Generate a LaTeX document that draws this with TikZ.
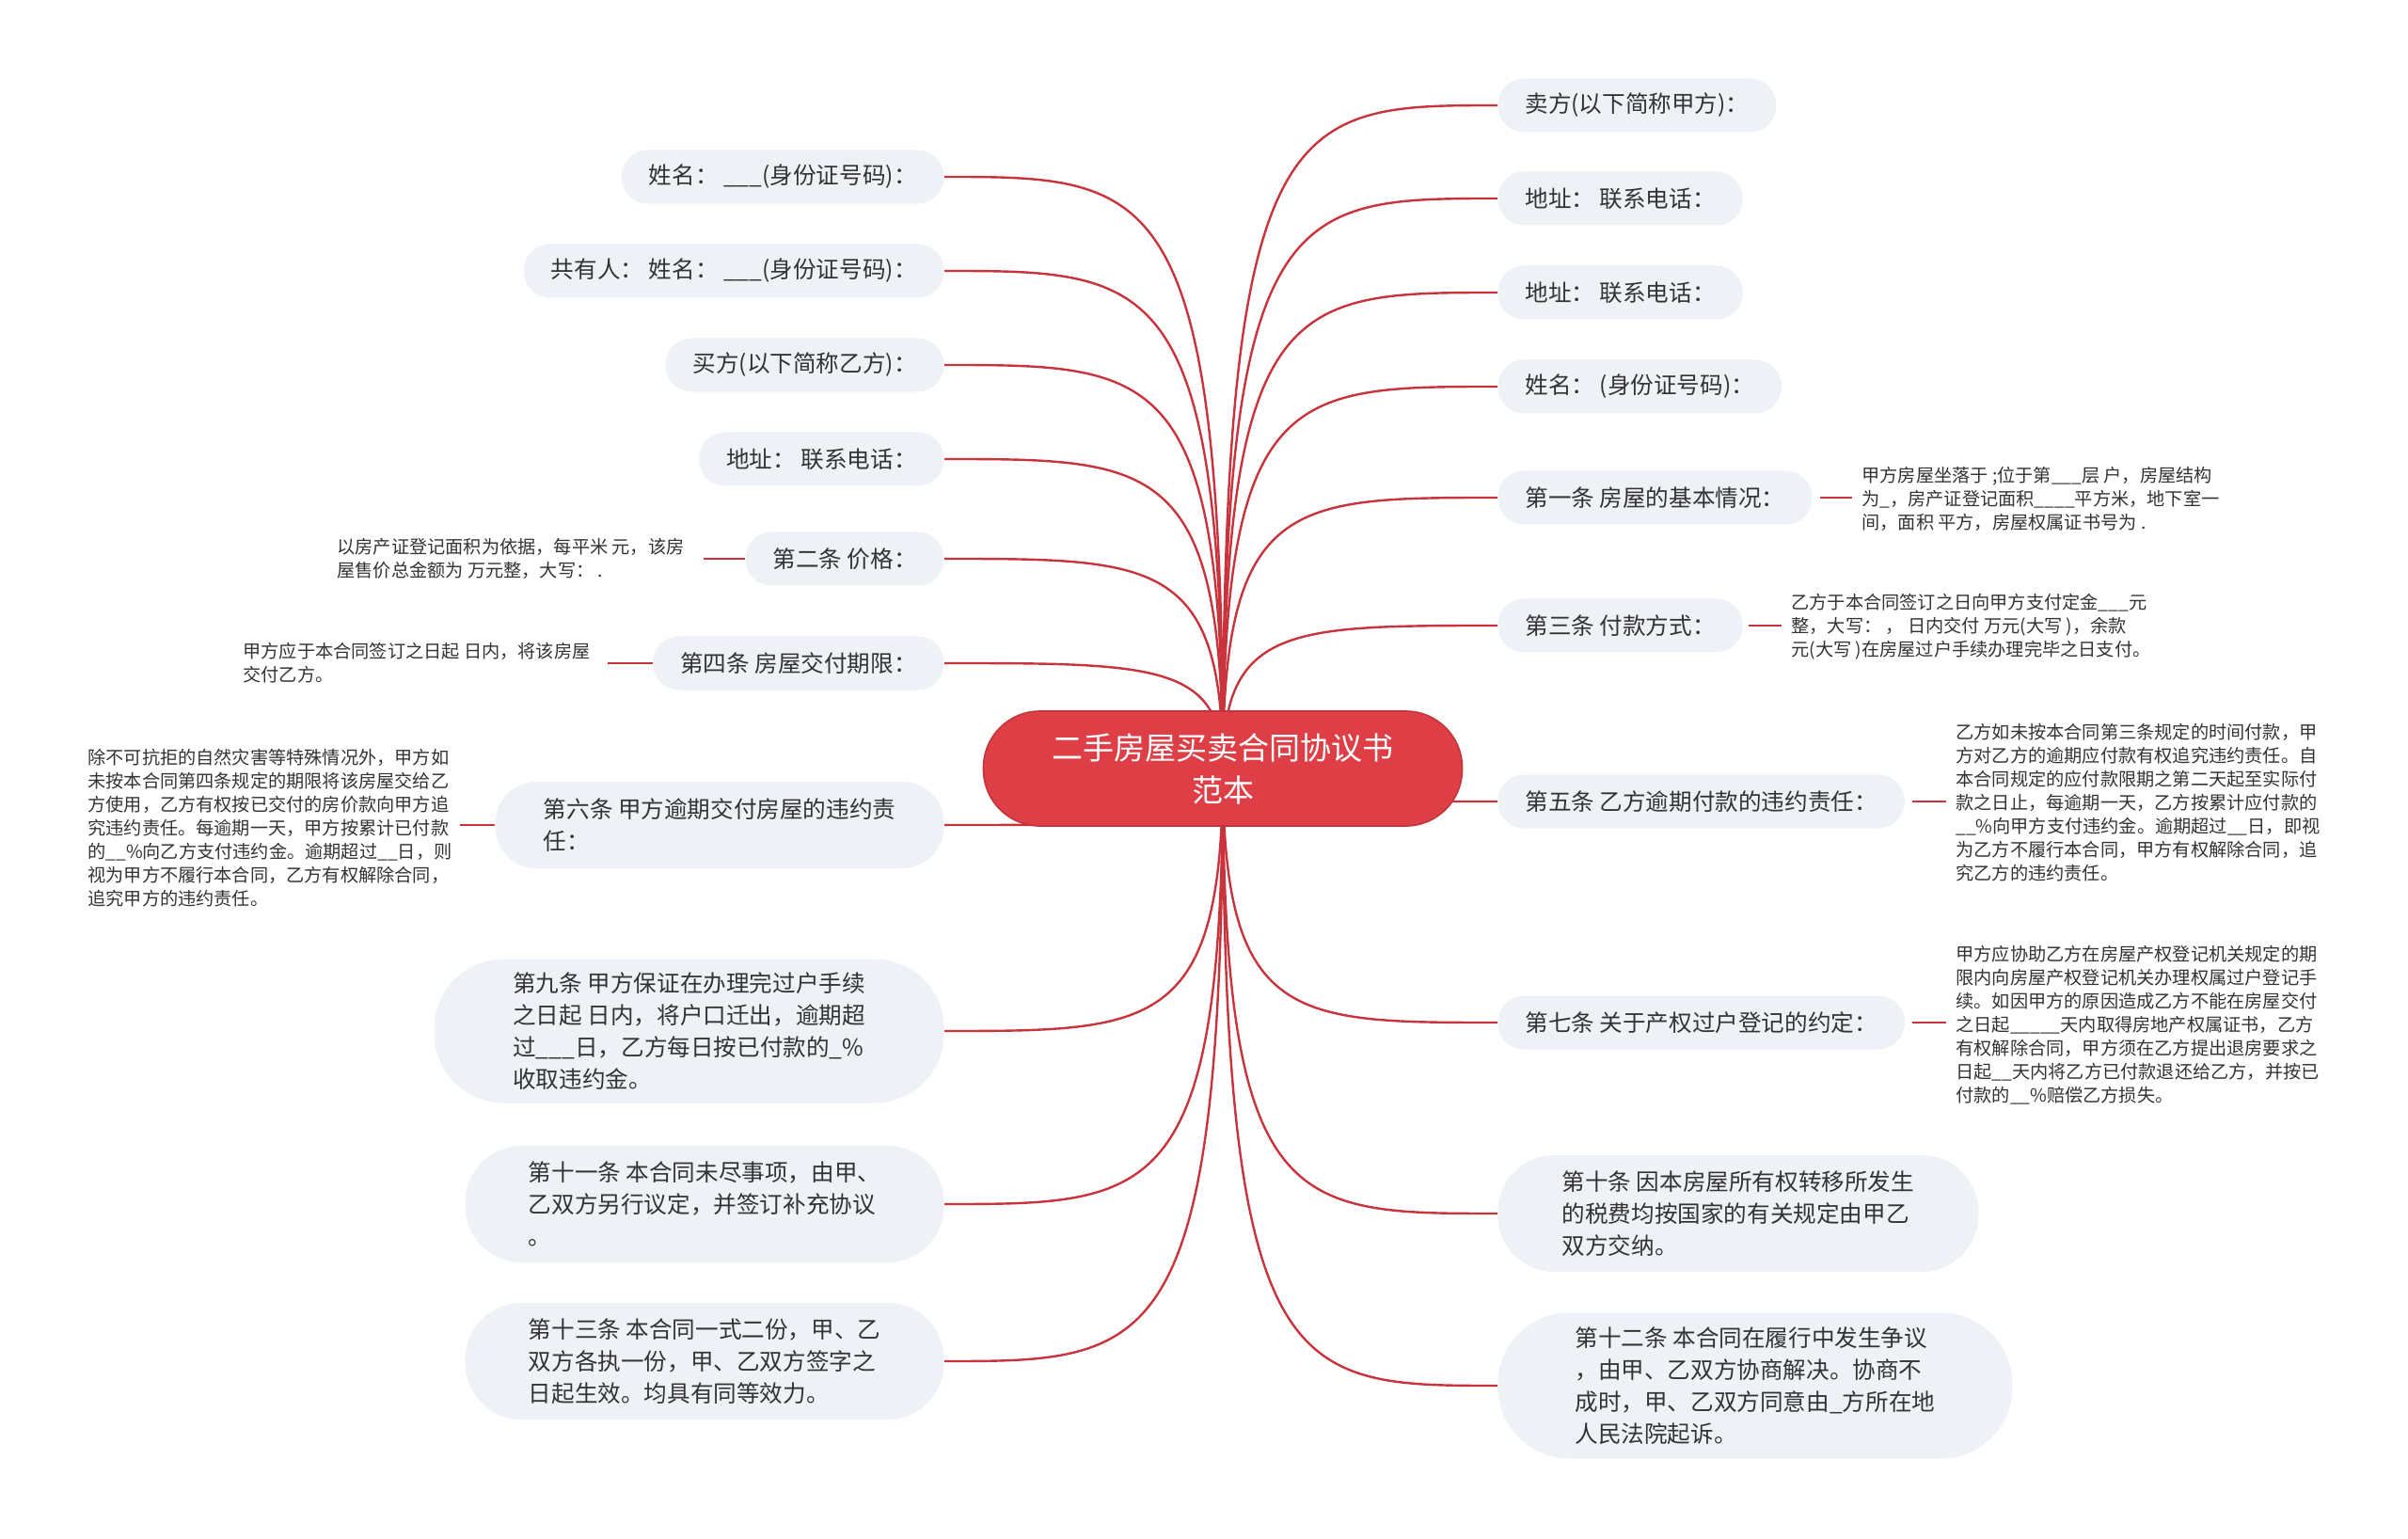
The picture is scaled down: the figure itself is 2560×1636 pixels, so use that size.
\documentclass[tikz,border=0pt]{standalone}
\usepackage{fontspec}
\setmainfont{Noto Sans CJK SC}
\usetikzlibrary{calc}
\pgfdeclarelayer{bg}
\pgfsetlayers{bg,main}
\definecolor{linered}{HTML}{C8333C}
\definecolor{rootred}{HTML}{DE3F47}
\definecolor{rootborder}{HTML}{C3333A}
\definecolor{boxgray}{HTML}{EEF1F5}
\definecolor{txt}{HTML}{333333}
\tikzset{
  leaf/.style={fill=boxgray, text=txt, font=\fontsize{12.3pt}{17pt}\selectfont, minimum height=28.5pt, inner xsep=14.5pt, inner ysep=0pt, rounded corners=14pt},
  multi/.style={fill=boxgray, text=txt, font=\fontsize{12.3pt}{17pt}\selectfont, align=left, inner xsep=0pt, inner ysep=0pt},
  detail/.style={text=txt, font=\fontsize{9.6pt}{12.5pt}\selectfont, align=left, inner sep=0pt},
  conn/.style={draw=linered, line width=1.2pt},
  rootbox/.style={fill=rootred, draw=rootborder, line width=0.8pt, text=white, font=\fontsize{16.5pt}{22.5pt}\selectfont, align=center, minimum width=254.5pt, minimum height=61pt, rounded corners=30pt, inner sep=0pt}
}
\newcommand\rconn[1]{\path (root.center |- #1.west) coordinate (k-#1); \draw[conn] (root.center) .. controls (k-#1) and ($(k-#1)!0.25!(#1.west)$) .. (#1.west);}
\newcommand\lconn[1]{\path (root.center |- #1.east) coordinate (k-#1); \draw[conn] (root.center) .. controls (k-#1) and ($(k-#1)!0.25!(#1.east)$) .. (#1.east);}
\begin{document}
\begin{tikzpicture}[x=0.5pt, y=-0.5pt]
\useasboundingbox (0,0) rectangle (2560,1636);

% root
\node[rootbox] (root) at (1300,817) {二手房屋买卖合同协议书\\范本};

% right side
\node[leaf, anchor=west] (R1) at (1592,112) {卖方(以下简称甲方)：};
\node[leaf, anchor=west] (R2) at (1592,211) {地址： 联系电话：};
\node[leaf, anchor=west] (R3) at (1592,311) {地址： 联系电话：};
\node[leaf, anchor=west] (R4) at (1592,411) {姓名： (身份证号码)：};
\node[leaf, anchor=west] (R5) at (1592,529) {第一条 房屋的基本情况：};
\node[leaf, anchor=west] (R6) at (1592,665) {第三条 付款方式：};
\node[leaf, anchor=west] (R7) at (1592,852) {第五条 乙方逾期付款的违约责任：};
\node[leaf, anchor=west] (R8) at (1592,1087) {第七条 关于产权过户登记的约定：};
\node[multi, anchor=west, minimum width=255.5pt, minimum height=62pt, rounded corners=30pt] (R9) at (1592,1290) {第十条 因本房屋所有权转移所发生\\的税费均按国家的有关规定由甲乙\\双方交纳。};
\node[multi, anchor=west, minimum width=273.5pt, minimum height=77.5pt, rounded corners=38pt] (R10) at (1592,1473) {第十二条 本合同在履行中发生争议\\，由甲、乙双方协商解决。协商不\\成时，甲、乙双方同意由\_方所在地\\人民法院起诉。};

\node[detail, anchor=west] (D5) at (1979,530) {甲方房屋坐落于 ;位于第\_\_\_层 户，房屋结构\\为\_，房产证登记面积\_\_\_\_平方米，地下室一\\间，面积 平方，房屋权属证书号为 .};
\node[detail, anchor=west] (D6) at (1904,666) {乙方于本合同签订之日向甲方支付定金\_\_\_元\\整，大写： ，  日内交付 万元(大写 )，余款\\元(大写 )在房屋过户手续办理完毕之日支付。};
\node[detail, anchor=west] (D7) at (2079,853) {乙方如未按本合同第三条规定的时间付款，甲\\方对乙方的逾期应付款有权追究违约责任。自\\本合同规定的应付款限期之第二天起至实际付\\款之日止，每逾期一天，乙方按累计应付款的\\\_\_\%向甲方支付违约金。逾期超过\_\_日，即视\\为乙方不履行本合同，甲方有权解除合同，追\\究乙方的违约责任。};
\node[detail, anchor=west] (D8) at (2079,1090) {甲方应协助乙方在房屋产权登记机关规定的期\\限内向房屋产权登记机关办理权属过户登记手\\续。如因甲方的原因造成乙方不能在房屋交付\\之日起\_\_\_\_\_天内取得房地产权属证书，乙方\\有权解除合同，甲方须在乙方提出退房要求之\\日起\_\_天内将乙方已付款退还给乙方，并按已\\付款的\_\_\%赔偿乙方损失。};

% left side
\node[leaf, anchor=east] (L1) at (1004,188) {姓名： \_\_\_(身份证号码)：};
\node[leaf, anchor=east] (L2) at (1004,288) {共有人： 姓名： \_\_\_(身份证号码)：};
\node[leaf, anchor=east] (L3) at (1004,388) {买方(以下简称乙方)：};
\node[leaf, anchor=east] (L4) at (1004,488) {地址： 联系电话：};
\node[leaf, anchor=east] (L5) at (1004,594) {第二条 价格：};
\node[leaf, anchor=east] (L6) at (1004,705) {第四条 房屋交付期限：};
\node[multi, anchor=east, minimum width=238.5pt, minimum height=46pt, rounded corners=22pt] (L7) at (1004,877) {第六条 甲方逾期交付房屋的违约责\\任：};
\node[multi, anchor=east, minimum width=271pt, minimum height=76.5pt, rounded corners=37pt] (L8) at (1004,1096) {第九条 甲方保证在办理完过户手续\\之日起 日内，将户口迁出，逾期超\\过\_\_\_日，乙方每日按已付款的\_\%\\收取违约金。};
\node[multi, anchor=east, minimum width=254.5pt, minimum height=62pt, rounded corners=30pt] (L9) at (1004,1280) {第十一条 本合同未尽事项，由甲、\\乙双方另行议定，并签订补充协议\\。};
\node[multi, anchor=east, minimum width=254.5pt, minimum height=62pt, rounded corners=30pt] (L10) at (1004,1447) {第十三条 本合同一式二份，甲、乙\\双方各执一份，甲、乙双方签字之\\日起生效。均具有同等效力。};

\node[detail, anchor=west] (DL5) at (358,594) {以房产证登记面积为依据，每平米 元，该房\\屋售价总金额为 万元整，大写： .};
\node[detail, anchor=west] (DL6) at (258,705) {甲方应于本合同签订之日起 日内，将该房屋\\交付乙方。};
\node[detail, anchor=west] (DL7) at (93,880) {除不可抗拒的自然灾害等特殊情况外，甲方如\\未按本合同第四条规定的期限将该房屋交给乙\\方使用，乙方有权按已交付的房价款向甲方追\\究违约责任。每逾期一天，甲方按累计已付款\\的\_\_\%向乙方支付违约金。逾期超过\_\_日，则\\视为甲方不履行本合同，乙方有权解除合同，\\追究甲方的违约责任。};

\begin{pgfonlayer}{bg}
\fill[white] (0,0) rectangle (2560,1636);
\rconn{R1}\rconn{R2}\rconn{R3}\rconn{R4}\rconn{R5}
\rconn{R6}\rconn{R7}\rconn{R8}\rconn{R9}\rconn{R10}
\lconn{L1}\lconn{L2}\lconn{L3}\lconn{L4}\lconn{L5}
\lconn{L6}\lconn{L7}\lconn{L8}\lconn{L9}\lconn{L10}
\end{pgfonlayer}

\draw[conn] ([xshift=4pt]R5.east) -- ([xshift=-5pt]D5.west |- R5.east);
\draw[conn] ([xshift=3pt]R6.east) -- ([xshift=-5pt]D6.west |- R6.east);
\draw[conn] ([xshift=4pt]R7.east) -- ([xshift=-5pt]D7.west |- R7.east);
\draw[conn] ([xshift=4pt]R8.east) -- ([xshift=-5pt]D8.west |- R8.east);
\draw[conn] (L5.west) -- ([xshift=10pt]DL5.east |- L5.west);
\draw[conn] (L6.west) -- ([xshift=9pt]DL6.east |- L6.west);
\draw[conn] (L7.west) -- ([xshift=4pt]DL7.east |- L7.west);
\end{tikzpicture}
\end{document}
